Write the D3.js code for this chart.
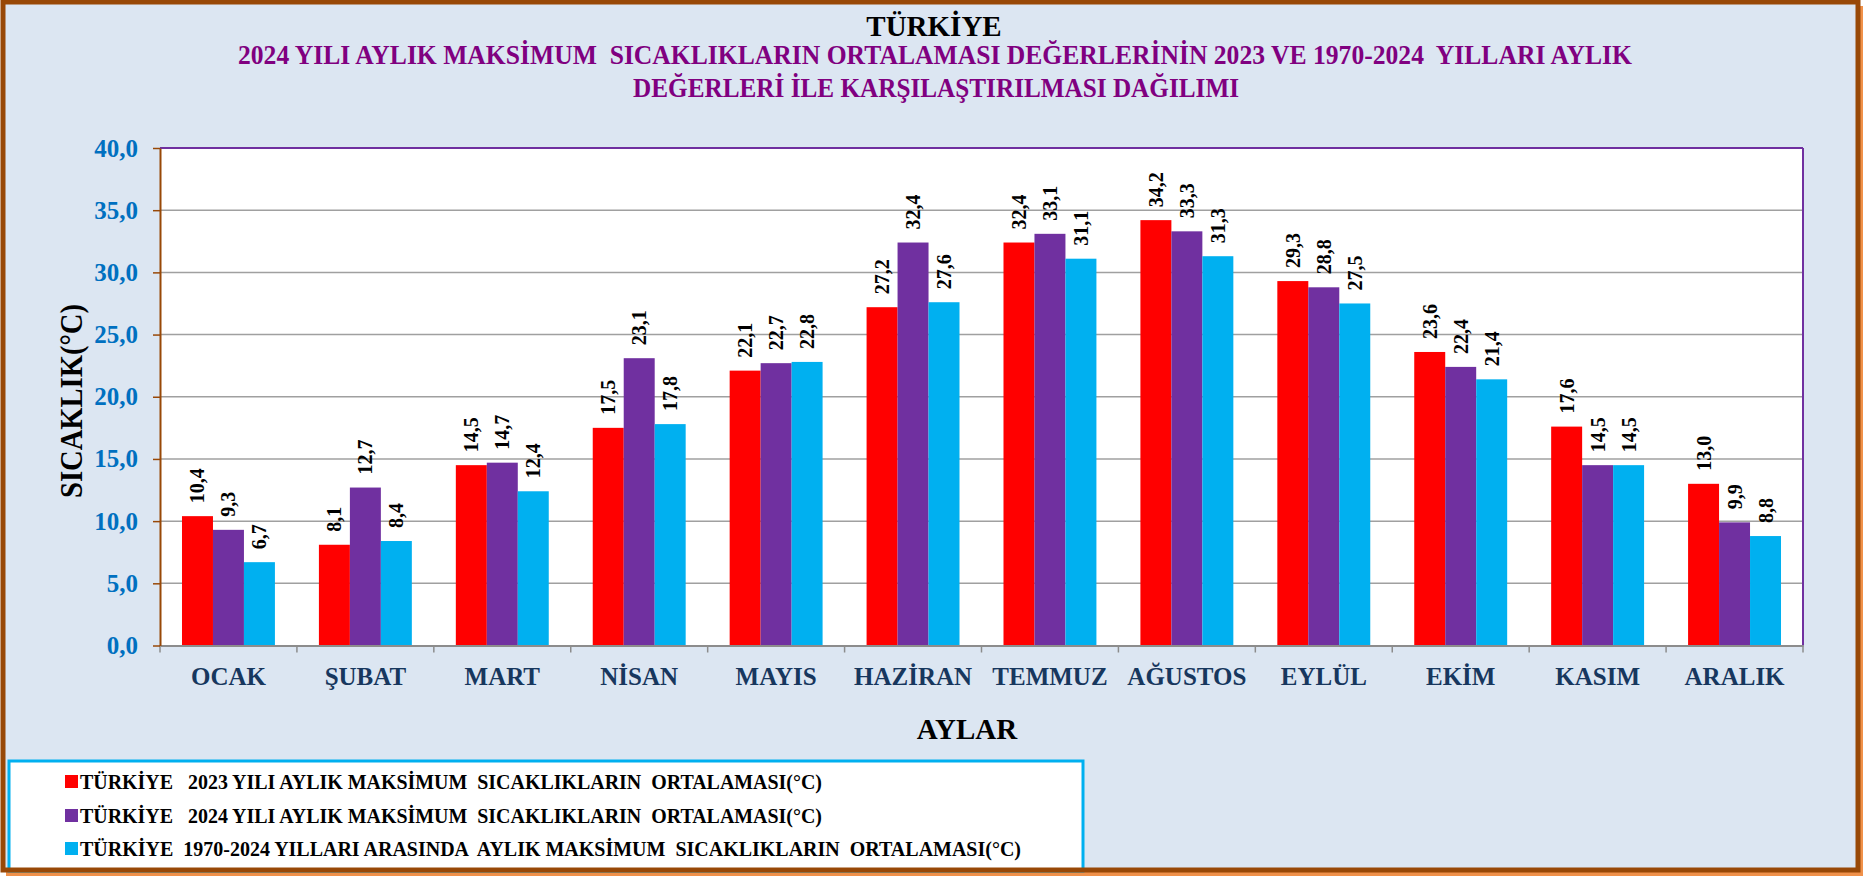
<!DOCTYPE html>
<html>
<head>
<meta charset="utf-8">
<script src="https://cdn.jsdelivr.net/npm/d3@7"></script>
<style>
  body { margin: 0; background: #ffffff; }
  text { font-family: "Liberation Serif", "Times New Roman", serif; font-weight: bold; }
</style>
</head>
<body>
<div class="chart_area"></div>
<script>
var months = ["OCAK", "ŞUBAT", "MART", "NİSAN", "MAYIS", "HAZİRAN", "TEMMUZ", "AĞUSTOS", "EYLÜL", "EKİM", "KASIM", "ARALIK"];
var series = ["y2023", "y2024", "y1970_2024"];
var seriesNames = [
  "TÜRKİYE   2023 YILI AYLIK MAKSİMUM  SICAKLIKLARIN  ORTALAMASI(°C)",
  "TÜRKİYE   2024 YILI AYLIK MAKSİMUM  SICAKLIKLARIN  ORTALAMASI(°C)",
  "TÜRKİYE  1970-2024 YILLARI ARASINDA  AYLIK MAKSİMUM  SICAKLIKLARIN  ORTALAMASI(°C)"
];
var values2023 = [10.4, 8.1, 14.5, 17.5, 22.1, 27.2, 32.4, 34.2, 29.3, 23.6, 17.6, 13.0];
var values2024 = [9.3, 12.7, 14.7, 23.1, 22.7, 32.4, 33.1, 33.3, 28.8, 22.4, 14.5, 9.9];
var values1970_2024 = [6.7, 8.4, 12.4, 17.8, 22.8, 27.6, 31.1, 31.3, 27.5, 21.4, 14.5, 8.8];
var yTicks = [0, 5, 10, 15, 20, 25, 30, 35, 40];
var colors = ["#ff0000", "#7030a0", "#00b0f0"];

var W = 1863, H = 876;
var margin = {top: 148, right: 60, bottom: 230.5, left: 160},
    width = W - margin.left - margin.right,
    height = H - margin.top - margin.bottom;

var svg = d3.select(".chart_area")
  .append("svg")
  .attr("width", W)
  .attr("height", H);

// frame with shadow
svg.append("rect").attr("x", 6).attr("y", 6).attr("width", W - 6).attr("height", H - 6).style("fill", "#f0914a");
svg.append("rect").attr("x", 3).attr("y", 2).attr("width", W - 8).attr("height", H - 8).style("fill", "#dce6f2");

// titles
svg.append("text")
  .attr("x", 934).attr("y", 36)
  .attr("text-anchor", "middle")
  .style("font-size", "29px").style("fill", "#000")
  .text("TÜRKİYE");

svg.append("text")
  .attr("x", 935).attr("y", 64)
  .attr("text-anchor", "middle")
  .attr("textLength", 1394).attr("lengthAdjust", "spacingAndGlyphs")
  .style("font-size", "27px").style("fill", "#800080").style("white-space", "pre")
  .text("2024 YILI AYLIK MAKSİMUM  SICAKLIKLARIN ORTALAMASI DEĞERLERİNİN 2023 VE 1970-2024  YILLARI AYLIK");

svg.append("text")
  .attr("x", 936).attr("y", 97)
  .attr("text-anchor", "middle")
  .attr("textLength", 606).attr("lengthAdjust", "spacingAndGlyphs")
  .style("font-size", "27px").style("fill", "#800080")
  .text("DEĞERLERİ İLE KARŞILAŞTIRILMASI DAĞILIMI");

var g = svg.append("g")
  .attr("transform", "translate(" + margin.left + "," + margin.top + ")");

var x0 = d3.scaleBand().domain(months).range([0, width]).paddingInner(0).paddingOuter(0);
var x1 = d3.scaleBand().domain(series).range([0, x0.bandwidth()]).paddingInner(0).paddingOuter(0.71);
var y = d3.scaleLinear().domain([0, 40]).range([height, 0]);

g.append("rect").attr("width", width).attr("height", height).style("fill", "#ffffff");

// grid
g.selectAll(".grid")
  .data(yTicks.filter(function(d) { return d > 0 && d < 40; }))
  .enter().append("line")
    .attr("x1", 0).attr("x2", width)
    .attr("y1", function(d) { return y(d); }).attr("y2", function(d) { return y(d); })
    .style("stroke", "#a0a0a0").style("stroke-width", 1.5);

g.append("line").attr("x1", 0).attr("x2", width).attr("y1", y(40)).attr("y2", y(40))
  .style("stroke", "#7030a0").style("stroke-width", 2);
g.append("line").attr("x1", width).attr("x2", width).attr("y1", y(40)).attr("y2", height)
  .style("stroke", "#7030a0").style("stroke-width", 2);

var fmt = function(v) { return d3.format(".1f")(v).replace(".", ","); };

var data = months.map(function(m, i) {
  return {month: m, vals: [values2023[i], values2024[i], values1970_2024[i]]};
});

var groups = g.selectAll(".month")
  .data(data)
  .enter().append("g")
    .attr("transform", function(d) { return "translate(" + x0(d.month) + ",0)"; });

groups.selectAll("rect")
  .data(function(d) { return d.vals.map(function(v, j) { return {key: series[j], value: v, c: colors[j]}; }); })
  .enter().append("rect")
    .attr("x", function(d) { return x1(d.key); })
    .attr("y", function(d) { return y(d.value); })
    .attr("width", x1.bandwidth())
    .attr("height", function(d) { return height - y(d.value); })
    .style("fill", function(d) { return d.c; });

groups.selectAll(".lbl")
  .data(function(d) { return d.vals.map(function(v, j) { return {key: series[j], value: v}; }); })
  .enter().append("text")
    .attr("transform", function(d) {
      return "translate(" + (x1(d.key) + x1.bandwidth() / 2) + "," + (y(d.value) - 13) + ") rotate(-90)";
    })
    .attr("dy", "0.35em")
    .attr("text-anchor", "start")
    .style("font-size", "20px").style("fill", "#000")
    .text(function(d) { return fmt(d.value); });

// x axis
var xAxis = g.append("g")
  .attr("transform", "translate(0," + height + ")")
  .call(d3.axisBottom(x0).tickSize(0).tickPadding(22));
xAxis.select(".domain").style("stroke", "#8c8c8c").style("stroke-width", 2);
xAxis.selectAll("text")
  .attr("dy", "0.71em")
  .style("font-size", "25px").style("fill", "#17375e")
  .style("font-family", "'Liberation Serif', serif").style("font-weight", "bold");

g.selectAll(".xtick")
  .data(months.concat(["end"]))
  .enter().append("line")
    .attr("x1", function(d, i) { return i * x0.step(); })
    .attr("x2", function(d, i) { return i * x0.step(); })
    .attr("y1", height).attr("y2", height + 7)
    .style("stroke", "#8c8c8c").style("stroke-width", 1.5);

// y axis
var yAxis = g.append("g")
  .call(d3.axisLeft(y).tickValues(yTicks).tickSize(7).tickSizeOuter(0).tickPadding(15).tickFormat(fmt));
yAxis.select(".domain").style("stroke", "#984807").style("stroke-width", 2);
yAxis.selectAll(".tick line").style("stroke", "#984807").style("stroke-width", 1.5);
yAxis.selectAll("text")
  .style("font-size", "25px").style("fill", "#0070c0")
  .style("font-family", "'Liberation Serif', serif").style("font-weight", "bold");

// axis titles
svg.append("text")
  .attr("transform", "translate(82,401) rotate(-90)")
  .attr("text-anchor", "middle")
  .attr("textLength", 194).attr("lengthAdjust", "spacingAndGlyphs")
  .style("font-size", "31px").style("fill", "#000")
  .text("SICAKLIK(°C)");

svg.append("text")
  .attr("x", 967).attr("y", 739)
  .attr("text-anchor", "middle")
  .style("font-size", "29px").style("fill", "#000")
  .text("AYLAR");

// legend
svg.append("rect")
  .attr("x", 9).attr("y", 761).attr("width", 1074).attr("height", 110)
  .style("fill", "#ffffff").style("stroke", "#00b0f0").style("stroke-width", 3);

var legendY = [782, 816, 849];
var legend = svg.selectAll(".legend")
  .data(seriesNames)
  .enter().append("g")
    .attr("transform", function(d, i) { return "translate(65," + legendY[i] + ")"; });

legend.append("rect")
  .attr("x", 0).attr("y", -7).attr("width", 13).attr("height", 13)
  .style("fill", function(d, i) { return colors[i]; });

legend.append("text")
  .attr("x", 15).attr("dy", "0.35em")
  .attr("textLength", function(d, i) { return i == 2 ? 941 : 742; })
  .attr("lengthAdjust", "spacingAndGlyphs")
  .style("font-size", "21px").style("fill", "#000").style("white-space", "pre")
  .text(function(d) { return d; });

// outer border on top
svg.append("rect").attr("x", 3).attr("y", 2).attr("width", W - 8).attr("height", H - 8)
  .style("fill", "none").style("stroke", "#984807").style("stroke-width", 5);
</script>
</body>
</html>
